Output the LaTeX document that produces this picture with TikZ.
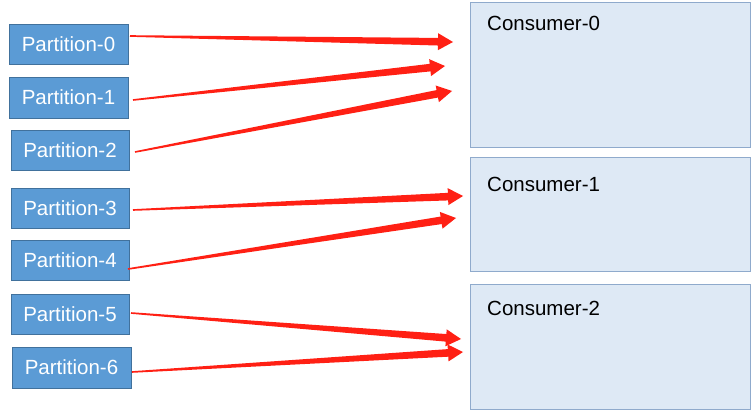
\documentclass[tikz,border=0pt]{standalone}
\usepackage{fontspec}
\setmainfont{Liberation Sans}
\usetikzlibrary{calc}
\definecolor{pfill}{HTML}{5B9BD5}
\definecolor{pdraw}{HTML}{41719C}
\definecolor{cfill}{HTML}{DEE9F5}
\definecolor{cdraw}{HTML}{8FAACC}
\definecolor{arr}{HTML}{FF2014}
\tikzset{
 part/.style={draw=pdraw, fill=pfill, text=white, minimum width=119pt, minimum height=40pt, inner sep=0pt, font=\fontsize{20.5}{24}\selectfont, line width=0.8pt},
 cons/.style={draw=cdraw, fill=cfill, line width=0.8pt},
 clabel/.style={anchor=base west, inner sep=0pt, font=\fontsize{20.5}{24}\selectfont},
}
\newcommand\taperarrow[2]{%
 \path ($(#2)!15pt!(#1)$) coordinate (hb);
 \fill[arr] ($(#1)!0.8pt!90:(#2)$) -- ($(hb)!3.8pt!-90:(#1)$) -- ($(hb)!8.5pt!-90:(#1)$) -- (#2) -- ($(hb)!8.5pt!90:(#1)$) -- ($(hb)!3.8pt!90:(#1)$) -- ($(#1)!0.8pt!-90:(#2)$) -- cycle;}
\begin{document}
\begin{tikzpicture}[x=1pt,y=-1pt]
\useasboundingbox (0,0) rectangle (754,414);
% consumers
\draw[cons] (470,2) rectangle (750,147);
\draw[cons] (470,157) rectangle (750,271);
\draw[cons] (470,284) rectangle (750,409);
\node[clabel] (c0) at (487,30.5) {Consumer-0};
\node[clabel] (c1) at (487,191) {Consumer-1};
\node[clabel] (c2) at (487,315) {Consumer-2};
% partitions
\node[part] (p0) at (68.5,44) {Partition-0};
\node[part, minimum height=41pt] (p1) at (68.5,97.5) {Partition-1};
\node[part, minimum width=118pt] (p2) at (70,150) {Partition-2};
\node[part, minimum width=118pt] (p3) at (70,208) {Partition-3};
\node[part, minimum width=118pt] (p4) at (70,260) {Partition-4};
\node[part, minimum width=118pt] (p5) at (70,314) {Partition-5};
\node[part, minimum height=41pt] (p6) at (71.5,367.5) {Partition-6};
% arrow coordinates
\coordinate (s0) at (130,36);  \coordinate (t0) at (453,42);
\coordinate (s1) at (133,100); \coordinate (t1) at (445,66);
\coordinate (s2) at (135,152); \coordinate (t2) at (452,91);
\coordinate (s3) at (133,210); \coordinate (t3) at (463,196);
\coordinate (s4) at (128,269); \coordinate (t4) at (456,218);
\coordinate (s5) at (131,313); \coordinate (t5) at (461,339);
\coordinate (s6) at (132,372); \coordinate (t6) at (463,352);
\taperarrow{s0}{t0}
\taperarrow{s1}{t1}
\taperarrow{s2}{t2}
\taperarrow{s3}{t3}
\taperarrow{s4}{t4}
\taperarrow{s5}{t5}
\taperarrow{s6}{t6}
\end{tikzpicture}
\end{document}
